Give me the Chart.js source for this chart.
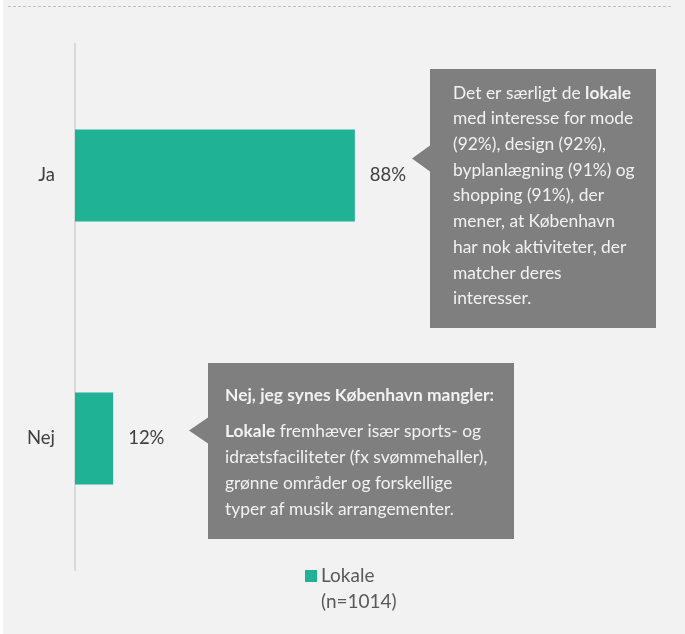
<!DOCTYPE html>
<html>
<head>
<meta charset="utf-8">
<script src="https://cdn.jsdelivr.net/npm/chart.js@4"></script>
<style>
  html, body { margin: 0; padding: 0; background: #ffffff; }
  #wrap { width: 685px; height: 634px; }
</style>
</head>
<body>
<div id="wrap"><canvas id="graf" width="685" height="634"></canvas></div>
<script>
const kategorier = ["Ja", "Nej"];
const andele = [88, 12];
const serieNavn = "Lokale";
const serieNote = "(n=1014)";
const farve = "#20b294";

// tekst i boksene: hver linje er en liste af [tekst, fed]
const boksJa = [
  [["Det er særligt de ", false], ["lokale", true]],
  [["med interesse for mode", false]],
  [["(92%), design (92%),", false]],
  [["byplanlægning (91%) og", false]],
  [["shopping (91%), der", false]],
  [["mener, at København", false]],
  [["har nok aktiviteter, der", false]],
  [["matcher deres", false]],
  [["interesser.", false]]
];
const boksNej = [
  [["Nej, jeg synes København mangler:", true]],
  [["Lokale", true], [" fremhæver især sports- og", false]],
  [["idrætsfaciliteter (fx svømmehaller),", false]],
  [["grønne områder og forskellige", false]],
  [["typer af musik arrangementer.", false]]
];

const FONT = "Lato, 'Open Sans', sans-serif";
const BOKS_PX = 17.4;

function tegnLinje(ctx, segs, x, y) {
  let cx = x;
  segs.forEach(([t, fed]) => {
    ctx.font = (fed ? "bold " : "") + BOKS_PX + "px " + FONT;
    ctx.fillText(t, cx, y);
    cx += ctx.measureText(t).width;
  });
}

function tegnBoks(ctx, b) {
  ctx.fillStyle = "#7f7f7f";
  ctx.beginPath();
  ctx.moveTo(b.x, b.y);
  ctx.lineTo(b.x + b.w, b.y);
  ctx.lineTo(b.x + b.w, b.y + b.h);
  ctx.lineTo(b.x, b.y + b.h);
  ctx.lineTo(b.x, b.spidsY + 13);
  ctx.lineTo(b.spidsX, b.spidsY);
  ctx.lineTo(b.x, b.spidsY - 13);
  ctx.closePath();
  ctx.fill();
  ctx.fillStyle = "#f2f2f2";
  ctx.textBaseline = "middle";
  ctx.textAlign = "left";
  b.linjer.forEach((l, i) => tegnLinje(ctx, l, b.tx, b.ty[i]));
}

const pynt = {
  id: "pynt",
  beforeDraw(chart) {
    const ctx = chart.ctx;
    ctx.save();
    ctx.fillStyle = "#f2f2f2";
    ctx.fillRect(3, 0, chart.width - 3, chart.height);
    ctx.strokeStyle = "#bfbfbf";
    ctx.lineWidth = 1;
    ctx.setLineDash([3, 2]);
    ctx.beginPath();
    ctx.moveTo(8, 6.5);
    ctx.lineTo(672, 6.5);
    ctx.stroke();
    ctx.restore();
  },
  afterDatasetsDraw(chart) {
    const ctx = chart.ctx;
    const bars = chart.getDatasetMeta(0).data;
    ctx.save();
    // værdier ved søjlerne
    ctx.fillStyle = "#404040";
    ctx.font = "18.5px " + FONT;
    ctx.textBaseline = "middle";
    ctx.textAlign = "left";
    bars.forEach((bar, i) => ctx.fillText(andele[i] + "%", bar.x + 15, bar.y));

    const ja = bars[0], nej = bars[1];
    tegnBoks(ctx, {
      x: 430, y: 69, w: 226, h: 259,
      spidsX: 412, spidsY: ja.y - 17,
      tx: 453, ty: boksJa.map((_, i) => 93 + i * 25.7),
      linjer: boksJa
    });
    tegnBoks(ctx, {
      x: 208, y: 363, w: 306, h: 176,
      spidsX: 189, spidsY: nej.y - 8,
      tx: 225, ty: [395, 431, 457, 483, 509],
      linjer: boksNej
    });

    // forklaring
    ctx.fillStyle = farve;
    ctx.fillRect(305, 570, 12, 12);
    ctx.fillStyle = "#595959";
    ctx.font = "19px " + FONT;
    ctx.fillText(serieNavn, 321, 576);
    ctx.fillText(serieNote, 321, 602);
    ctx.restore();
  }
};

new Chart(document.getElementById("graf"), {
  type: "bar",
  data: {
    labels: kategorier,
    datasets: [{
      label: serieNavn,
      data: andele,
      backgroundColor: farve,
      categoryPercentage: 1,
      barPercentage: 0.35
    }]
  },
  options: {
    indexAxis: "y",
    responsive: false,
    animation: false,
    layout: { padding: { top: 44, bottom: 64, left: 0, right: 292 } },
    plugins: { legend: { display: false }, tooltip: { enabled: false } },
    scales: {
      x: { min: 0, max: 100, display: false },
      y: {
        afterFit(s) { s.width = 75; },
        grid: { display: false, drawTicks: false },
        border: { display: true, color: "#d9d9d9", width: 2 },
        ticks: { color: "#404040", padding: 20, font: { family: FONT, size: 18.5 } }
      }
    }
  },
  plugins: [pynt]
});
</script>
</body>
</html>
